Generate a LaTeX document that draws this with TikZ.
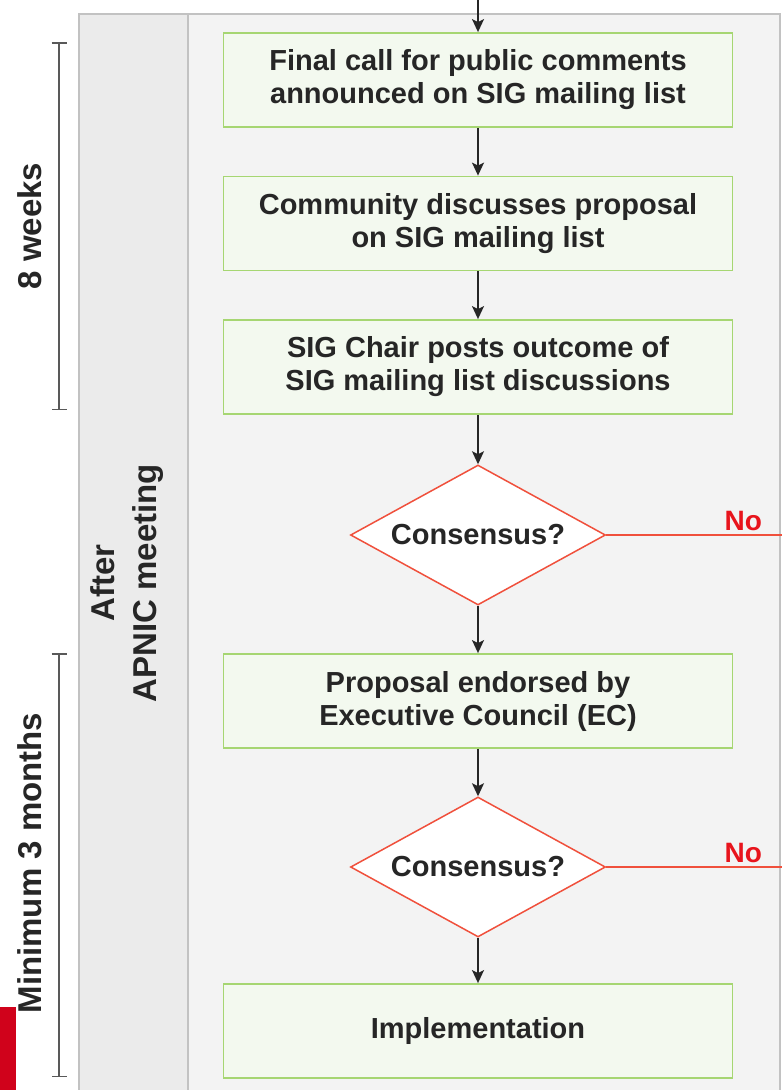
\documentclass[tikz,border=0pt]{standalone}
\usepackage{fontspec}
\setmainfont{Liberation Sans}
\usetikzlibrary{arrows, arrows.meta, positioning, shapes.geometric}
\definecolor{boxgreen}{HTML}{A6D672}
\definecolor{boxfill}{HTML}{F3F9EF}
\definecolor{panelgray}{HTML}{F3F3F3}
\definecolor{colgray}{HTML}{EBEBEB}
\definecolor{rulegray}{HTML}{C2C2C2}
\definecolor{decred}{HTML}{F0503C}
\definecolor{nored}{HTML}{E8141C}
\definecolor{barred}{HTML}{D0021B}
\definecolor{inkgray}{HTML}{262626}

\begin{document}
\begin{tikzpicture}[x=1pt, y=1pt, ->, >={Stealth[length=13pt, width=12pt, inset=3pt]}, node distance=143.5pt, on grid, line width=1.6pt,
    font=\bfseries\fontsize{29}{33}\selectfont]
      \tikzstyle{task}=[draw=boxgreen, fill=boxfill, line width=1.8pt, text=inkgray,
        minimum width=509pt, minimum height=94pt, align=center]
      \tikzstyle{check}=[diamond, draw=decred, fill=white, line width=1.5pt, text=inkgray,
        minimum width=255pt, minimum height=140pt, aspect=1.82, inner sep=0pt]
      \tikzstyle{span}=[-, {Bar[width=15pt]}-{Bar[width=15pt]}, draw=black!65, line width=1.5pt]
      \tikzstyle{side}=[rotate=90, text=inkgray, align=center, font=\bfseries\fontsize{33}{42}\selectfont]
      \tikzstyle{flow}=[draw=inkgray, line width=1.8pt]
      \tikzstyle{reject}=[-, draw=decred, line width=1.5pt]
      % frame
      \useasboundingbox (0,0) rectangle (782,-1090);
      \draw[-, rulegray, line width=2pt, fill=panelgray] (79,-14) rectangle (780,-1110);
      \fill[colgray] (80,-15) rectangle (187,-1090);
      \draw[-, rulegray, line width=2.5pt] (188,-14) -- (188,-1090);
      \fill[barred] (0,-1007) rectangle (16,-1090);
      % time spans
      \coordinate (w1) at (59,-42);
      \coordinate (w2) at (59,-410);
      \coordinate (m1) at (59,-653);
      \coordinate (m2) at (59,-1077);
      \draw[span] (w1) -- (w2);
      \draw[span] (m1) -- (m2);
      \node[side] (weeks) at (30,-226) {8 weeks};
      \node[side] (months) at (30,-863) {Minimum 3 months};
      \node[side] (after) at (127,-583) {After\\APNIC meeting};
      % flow
      \node[task] (final) at (478,-80) {Final call for public comments\\announced on SIG mailing list};
      \node[task] (discuss) [below = of final] {Community discusses proposal\\on SIG mailing list};
      \node[task] (outcome) [below = of discuss] {SIG Chair posts outcome of\\SIG mailing list discussions};
      \node[check] (cons1) [below = 168pt of outcome] {Consensus?};
      \node[task] (endorse) [below = 166pt of cons1] {Proposal endorsed by\\Executive Council (EC)};
      \node[check] (cons2) [below = 166pt of endorse] {Consensus?};
      \node[task] (impl) [below = 164pt of cons2] {Implementation};
      \coordinate (entry) at (final |- 0,0);
      \coordinate (exit1) at (cons1.east -| 782,0);
      \coordinate (exit2) at (cons2.east -| 782,0);
      \path (entry) edge[flow] (final);
      \path (final) edge[flow] (discuss);
      \path (discuss) edge[flow] (outcome);
      \path (outcome) edge[flow] (cons1);
      \path (cons1) edge[flow] (endorse);
      \path (endorse) edge[flow] (cons2);
      \path (cons2) edge[flow] (impl);
      \path (cons1.east) edge[reject] node[pos=0.78, above, text=nored, font=\bfseries\fontsize{28}{32}\selectfont] {No} (exit1);
      \path (cons2.east) edge[reject] node[pos=0.78, above, text=nored, font=\bfseries\fontsize{28}{32}\selectfont] {No} (exit2);
    \end{tikzpicture}
\end{document}
